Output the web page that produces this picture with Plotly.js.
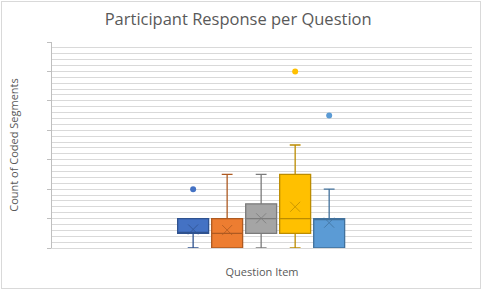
<!DOCTYPE html>
<html>
<head>
<meta charset="utf-8">
<script src="https://cdn.plot.ly/plotly-3.0.1.min.js"></script>
<style>
html,body{margin:0;padding:0;background:#fff;}
#wrap{position:relative;width:484px;height:293px;}
#chart{position:absolute;left:0;top:0;width:484px;height:293px;}
#frame{position:absolute;left:1px;top:1px;width:478px;height:286px;border:1px solid #D9D9D9;pointer-events:none;}
</style>
</head>
<body>
<div id="wrap"><div id="chart"></div><div id="frame"></div></div>
<script>
// Data (counts of coded segments per question)
var questions   = ['Question 1', 'Question 2', 'Question 3', 'Question 4', 'Question 5'];
var q1Values    = [5, 0, 5, 5, 0];
var medianVals  = [5, 5, 10, 10, 10];
var q3Values    = [10, 10, 15, 25, 10];
var lowerFence  = [0, 0, 0, 0, 0];
var upperFence  = [10, 25, 25, 35, 20];
var meanValues  = [6.3, 6.1, 10.1, 14, 8.6];
var outlierQ    = ['Question 1', 'Question 4', 'Question 5'];
var outlierVals = [20, 60, 45];

var fillColors = ['#4472C4', '#ED7D31', '#A5A5A5', '#FFC000', '#5B9BD5'];
var lineColors = ['#2F528F', '#AE5A21', '#7B7B7B', '#BC8C00', '#41719C'];

var traces = [];
questions.forEach(function (q, i) {
  traces.push({
    type: 'box',
    x: [q],
    q1: [q1Values[i]],
    median: [medianVals[i]],
    q3: [q3Values[i]],
    lowerfence: [lowerFence[i]],
    upperfence: [upperFence[i]],
    fillcolor: fillColors[i],
    line: {color: lineColors[i], width: 1.3},
    whiskerwidth: 0.35,
    boxpoints: false,
    hoverinfo: 'skip',
    showlegend: false
  });
});
// mean markers (X)
questions.forEach(function (q, i) {
  traces.push({
    type: 'scatter', mode: 'markers',
    x: [q], y: [meanValues[i]],
    marker: {symbol: 'x-thin-open', size: 10, color: lineColors[i], line: {color: lineColors[i], width: 1}},
    opacity: 0.75,
    hoverinfo: 'skip', showlegend: false
  });
});
// outliers
outlierQ.forEach(function (q, j) {
  var i = questions.indexOf(q);
  traces.push({
    type: 'scatter', mode: 'markers',
    x: [q], y: [outlierVals[j]],
    marker: {symbol: 'circle', size: 6, color: fillColors[i], line: {width: 0}},
    hoverinfo: 'skip', showlegend: false
  });
});

var layout = {
  width: 484, height: 293,
  margin: {l: 52, r: 12, t: 42, b: 45},
  paper_bgcolor: '#ffffff', plot_bgcolor: '#ffffff',
  font: {family: 'Open Sans, sans-serif', color: '#595959'},
  title: {text: 'Participant Response per Question', x: 0.492, xanchor: 'center', y: 0.935, yanchor: 'middle',
          font: {size: 16.5, color: '#595959', family: 'Open Sans, sans-serif'}},
  boxmode: 'overlay',
  boxgap: 0.09,
  boxgroupgap: 0,
  xaxis: {
    type: 'category',
    categoryarray: questions,
    range: [-4.15, 8.2],
    showticklabels: false, ticks: '',
    showgrid: false, zeroline: false,
    showline: true, linecolor: '#D9D9D9', linewidth: 1,
    title: {text: 'Question Item', font: {size: 11, color: '#595959'}, standoff: 20}
  },
  yaxis: {
    range: [0, 70],
    dtick: 10,
    showticklabels: false,
    ticks: 'outside', ticklen: 4, tickcolor: '#BFBFBF', tickwidth: 1,
    showgrid: true, gridcolor: '#D9D9D9', gridwidth: 1,
    minor: {dtick: 2, showgrid: true, gridcolor: '#D9D9D9', gridwidth: 1, ticks: ''},
    zeroline: false,
    showline: true, linecolor: '#BFBFBF', linewidth: 1,
    title: {text: 'Count of Coded Segments', font: {size: 11, color: '#595959'}, standoff: 26}
  },
  showlegend: false
};

Plotly.newPlot('chart', traces, layout, {displayModeBar: false, staticPlot: true});
</script>
</body>
</html>
